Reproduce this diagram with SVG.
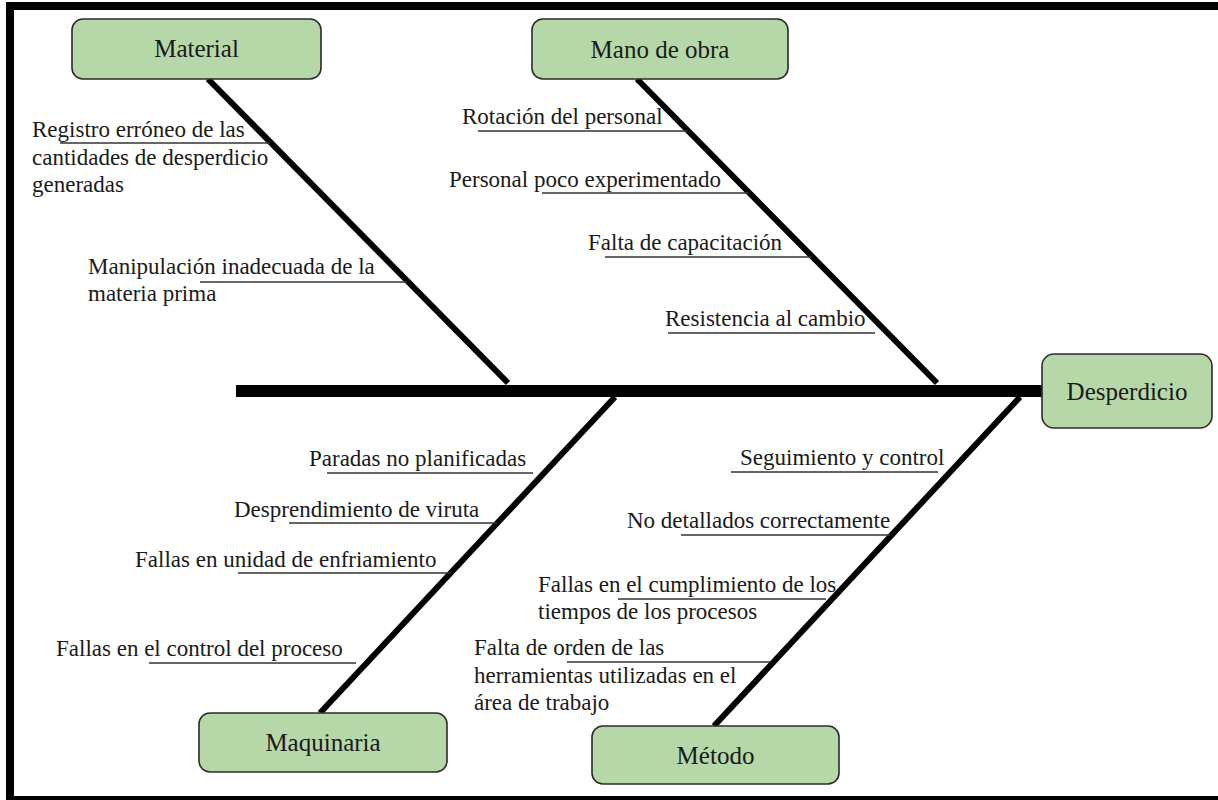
<svg xmlns="http://www.w3.org/2000/svg" width="1218" height="800" viewBox="0 0 1218 800">
<style>
.box{fill:#b6d7a8;stroke:#2b2b2b;stroke-width:1.6}
.lbl{font-size:25px;fill:#1a1a1a;text-anchor:middle}
.t{font-size:23px;fill:#1a1a1a}
.bone{stroke:#000;stroke-width:6;fill:none}
.ul{stroke:#333;stroke-width:1.6;fill:none}
</style>
<rect x="0" y="0" width="1218" height="800" fill="#fff"/>
<g id="frame" fill="none" stroke="#000" stroke-width="8">
<path d="M1230,6 H10 V800"/>
<line x1="10" y1="800" x2="1230" y2="800"/>
</g>
<g id="connectors">
<line x1="236" y1="391" x2="1044" y2="391" stroke="#000" stroke-width="12"/>
<line class="bone" x1="208" y1="79" x2="508" y2="383"/>
<line class="bone" x1="637" y1="79" x2="937" y2="383"/>
<line class="bone" x1="615" y1="397" x2="320" y2="713"/>
<line class="bone" x1="1020" y1="397" x2="714" y2="726"/>
<line class="ul" x1="60" y1="143" x2="270" y2="143"/>
<line class="ul" x1="200" y1="282" x2="407" y2="282"/>
<line class="ul" x1="478" y1="131" x2="688" y2="131"/>
<line class="ul" x1="542" y1="193" x2="749" y2="193"/>
<line class="ul" x1="605" y1="257" x2="812" y2="257"/>
<line class="ul" x1="668" y1="333" x2="875" y2="333"/>
<line class="ul" x1="327" y1="473" x2="533" y2="473"/>
<line class="ul" x1="289" y1="523" x2="497" y2="523"/>
<line class="ul" x1="238" y1="573" x2="451" y2="573"/>
<line class="ul" x1="149" y1="663" x2="356" y2="663"/>
<line class="ul" x1="731" y1="472" x2="938" y2="472"/>
<line class="ul" x1="681" y1="535" x2="890" y2="535"/>
<line class="ul" x1="618" y1="599" x2="826" y2="599"/>
<line class="ul" x1="567" y1="662" x2="770" y2="662"/>
</g>
<g font-family="Liberation Serif, serif">
<g id="material">
<rect class="box" x="72" y="19" width="249" height="60" rx="11"/>
<text class="lbl" x="196.5" y="57">Material</text>
</g>
<g id="mano-de-obra">
<rect class="box" x="532" y="19" width="256" height="60" rx="11"/>
<text class="lbl" x="660" y="58">Mano de obra</text>
</g>
<g id="desperdicio">
<rect class="box" x="1042" y="354" width="170" height="74" rx="12"/>
<text class="lbl" x="1127" y="400">Desperdicio</text>
</g>
<g id="maquinaria">
<rect class="box" x="199" y="713" width="248" height="59" rx="11"/>
<text class="lbl" x="323" y="751">Maquinaria</text>
</g>
<g id="metodo">
<rect class="box" x="592" y="726" width="247" height="58" rx="11"/>
<text class="lbl" x="715.5" y="764">Método</text>
</g>
<g id="causes-material">
<text class="t" x="32" y="137">Registro erróneo de las</text>
<text class="t" x="32" y="165">cantidades de desperdicio</text>
<text class="t" x="32" y="192">generadas</text>
<text class="t" x="88" y="274">Manipulación inadecuada de la</text>
<text class="t" x="88" y="301">materia prima</text>
</g>
<g id="causes-mano">
<text class="t" x="462" y="124">Rotación del personal</text>
<text class="t" x="449" y="187">Personal poco experimentado</text>
<text class="t" x="588" y="250">Falta de capacitación</text>
<text class="t" x="665" y="326">Resistencia al cambio</text>
</g>
<g id="causes-maquinaria">
<text class="t" x="309" y="466">Paradas no planificadas</text>
<text class="t" x="234" y="517">Desprendimiento de viruta</text>
<text class="t" x="135" y="567">Fallas en unidad de enfriamiento</text>
<text class="t" x="56" y="656">Fallas en el control del proceso</text>
</g>
<g id="causes-metodo">
<text class="t" x="740" y="465">Seguimiento y control</text>
<text class="t" x="627" y="528">No detallados correctamente</text>
<text class="t" x="538" y="592">Fallas en el cumplimiento de los</text>
<text class="t" x="538" y="619">tiempos de los procesos</text>
<text class="t" x="474" y="655">Falta de orden de las</text>
<text class="t" x="474" y="683">herramientas utilizadas en el</text>
<text class="t" x="474" y="710">área de trabajo</text>
</g>
</g>
</svg>
